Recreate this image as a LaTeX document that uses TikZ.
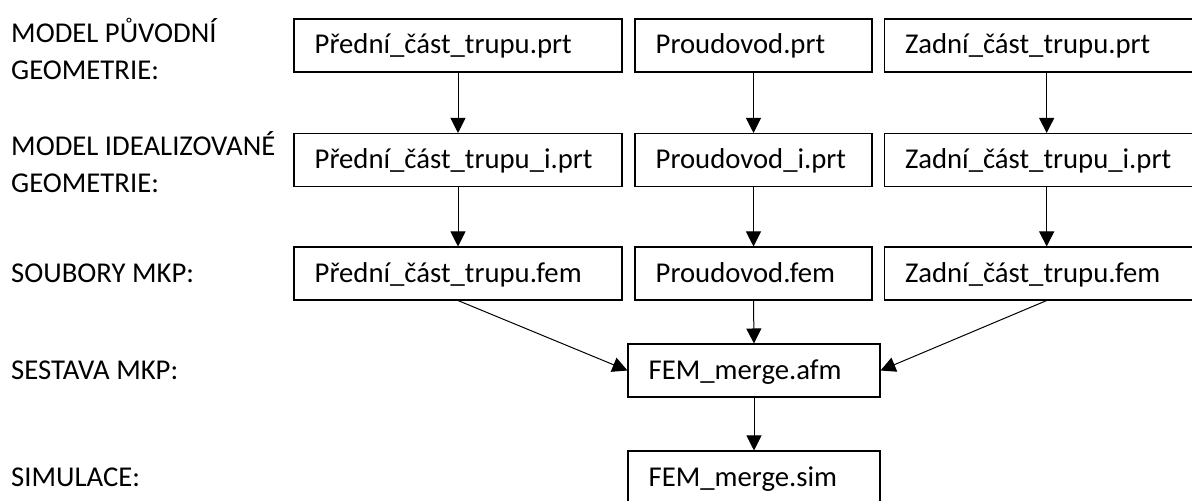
\documentclass[tikz,border=0pt]{standalone}
\usepackage{fontspec}
\setmainfont{Carlito}
\usepackage{tikz}
\usetikzlibrary{arrows.meta,positioning}

\begin{document}
\begin{tikzpicture}[
    font=\fontsize{24.5}{31}\selectfont,
    fileBox/.style={
        rectangle, draw, line width=0.9pt, inner xsep=0.62cm,
        minimum height=1.59cm, text height=20pt, text depth=5.5pt, align=left
    },
    rowLabel/.style={inner sep=0pt, align=left},
    arrow/.style={-{Triangle[length=0.45cm, width=0.45cm]}, line width=0.85pt}
]

    \useasboundingbox (0,0) rectangle (35.76,-15);

    % popisky radku
    \node[rowLabel, anchor=north west] (lblOrig) at (0.33,-0.55) {MODEL PŮVODNÍ\\GEOMETRIE:};
    \node[rowLabel, anchor=north west] (lblIdeal) at (0.33,-3.95) {MODEL IDEALIZOVANÉ\\GEOMETRIE:};
    \node[rowLabel, anchor=west, text height=20pt, text depth=5.5pt] (lblFem) at (0.33,-8.205) {SOUBORY MKP:};
    \node[rowLabel, anchor=west, text height=20pt, text depth=5.5pt] (lblAsm) at (0.33,-11.115) {SESTAVA MKP:};
    \node[rowLabel, anchor=west, text height=20pt, text depth=5.5pt] (lblSim) at (0.33,-14.325) {SIMULACE:};

    % puvodni geometrie
    \node[fileBox, text width=8.6cm] (front_prt) at (13.74,-1.365) {Přední\_část\_trupu.prt};
    \node[fileBox, text width=5.87cm] (duct_prt) at (22.605,-1.365) {Proudovod.prt};
    \node[fileBox, text width=8.5cm] (rear_prt) at (31.4,-1.365) {Zadní\_část\_trupu.prt};

    % idealizovana geometrie
    \node[fileBox, text width=8.6cm] (front_i) at (13.74,-4.8) {Přední\_část\_trupu\_i.prt};
    \node[fileBox, text width=5.87cm] (duct_i) at (22.605,-4.8) {Proudovod\_i.prt};
    \node[fileBox, text width=8.5cm] (rear_i) at (31.4,-4.8) {Zadní\_část\_trupu\_i.prt};

    % soubory MKP
    \node[fileBox, text width=8.6cm] (front_fem) at (13.74,-8.205) {Přední\_část\_trupu.fem};
    \node[fileBox, text width=5.87cm] (duct_fem) at (22.605,-8.205) {Proudovod.fem};
    \node[fileBox, text width=8.5cm] (rear_fem) at (31.4,-8.205) {Zadní\_část\_trupu.fem};

    % sestava a simulace
    \node[fileBox, text width=6.32cm] (merge_afm) at (22.62,-11.115) {FEM\_merge.afm};
    \node[fileBox, text width=6.32cm] (merge_sim) at (22.62,-14.325) {FEM\_merge.sim};

    \draw[arrow] (front_prt) -- (front_i);
    \draw[arrow] (duct_prt) -- (duct_i);
    \draw[arrow] (rear_prt) -- (rear_i);

    \draw[arrow] (front_i) -- (front_fem);
    \draw[arrow] (duct_i) -- (duct_fem);
    \draw[arrow] (rear_i) -- (rear_fem);

    \draw[arrow] (front_fem.south) -- (merge_afm.west);
    \draw[arrow] (duct_fem.south) -- (merge_afm.north);
    \draw[arrow] (rear_fem.south) -- (merge_afm.east);

    \draw[arrow] (merge_afm) -- (merge_sim);

\end{tikzpicture}
\end{document}
